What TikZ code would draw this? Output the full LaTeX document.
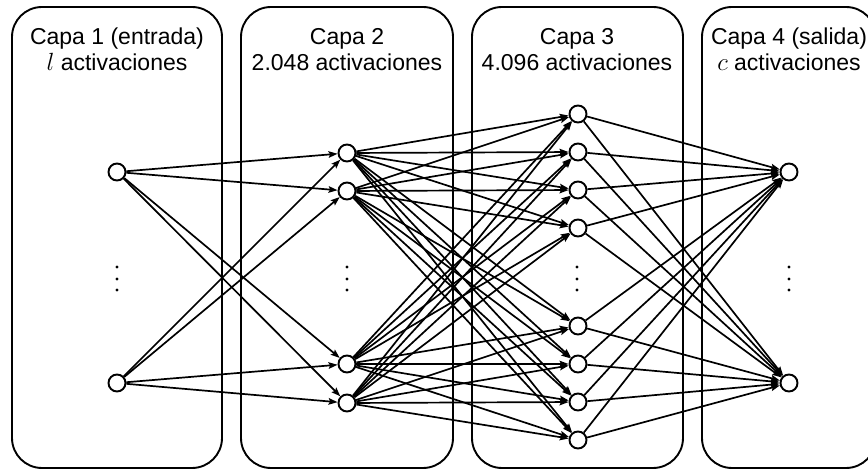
\documentclass[tikz,border=0pt]{standalone}
\usepackage{fontspec}
\setmainfont{Liberation Sans}
\usetikzlibrary{arrows.meta}
\begin{document}
\begin{tikzpicture}[x=1pt,y=-1pt,
  neuron/.style={circle,draw,line width=1.9pt,minimum size=17pt,inner sep=0pt,fill=white},
  layerbox/.style={draw,line width=1.9pt,rounded corners=30pt},
  conn/.style={line width=1.7pt,-{Stealth[length=9pt,width=6.5pt,inset=1.5pt]}},
  title/.style={font=\fontsize{23}{27}\selectfont,anchor=base,inner sep=0pt},
  vdot/.style={fill=black}]
\useasboundingbox (0,0) rectangle (868,470);
\clip (0,0) rectangle (868,470);
% layer boxes
\draw[layerbox] (12,7) rectangle (222,468);
\draw[layerbox] (241,7) rectangle (453,468);
\draw[layerbox] (472,7) rectangle (683,468);
\draw[layerbox] (702,7) rectangle (876,468);
% titles
\node[title] (t1a) at (117,45) {Capa 1 (entrada)};
\node[title] (t1b) at (117,71) {$l$ activaciones};
\node[title] (t2a) at (347,45) {Capa 2};
\node[title] (t2b) at (347,71) {2.048 activaciones};
\node[title] (t3a) at (577,45) {Capa 3};
\node[title] (t3b) at (577,71) {4.096 activaciones};
\node[title] (t4a) at (789,45) {Capa 4 (salida)};
\node[title] (t4b) at (789,71) {$c$ activaciones};
% neurons
\node[neuron] (i1) at (117,172) {};
\node[neuron] (i2) at (117,383) {};
\node[neuron] (h1) at (347,153) {};
\node[neuron] (h2) at (347,191) {};
\node[neuron] (h3) at (347,364) {};
\node[neuron] (h4) at (347,403) {};
\node[neuron] (g1) at (578,114) {};
\node[neuron] (g2) at (578,152) {};
\node[neuron] (g3) at (578,190) {};
\node[neuron] (g4) at (578,228) {};
\node[neuron] (g5) at (578,326) {};
\node[neuron] (g6) at (578,364) {};
\node[neuron] (g7) at (578,402) {};
\node[neuron] (g8) at (578,440) {};
\node[neuron] (o1) at (789,172) {};
\node[neuron] (o2) at (789,383) {};
% vertical dots
\foreach \x in {117,347,577,789}{
  \foreach \y in {267,279,290}{
    \fill[vdot] (\x,\y) circle (1.6pt);
  }
}
% connections
\foreach \a in {i1,i2}{
  \foreach \b in {h1,h2,h3,h4}{
    \draw[conn] (\a) -- (\b);
  }
}
\foreach \a in {h1,h2,h3,h4}{
  \foreach \b in {g1,g2,g3,g4,g5,g6,g7,g8}{
    \draw[conn] (\a) -- (\b);
  }
}
\foreach \a in {g1,g2,g3,g4,g5,g6,g7,g8}{
  \foreach \b in {o1,o2}{
    \draw[conn] (\a) -- (\b);
  }
}
\end{tikzpicture}
\end{document}
